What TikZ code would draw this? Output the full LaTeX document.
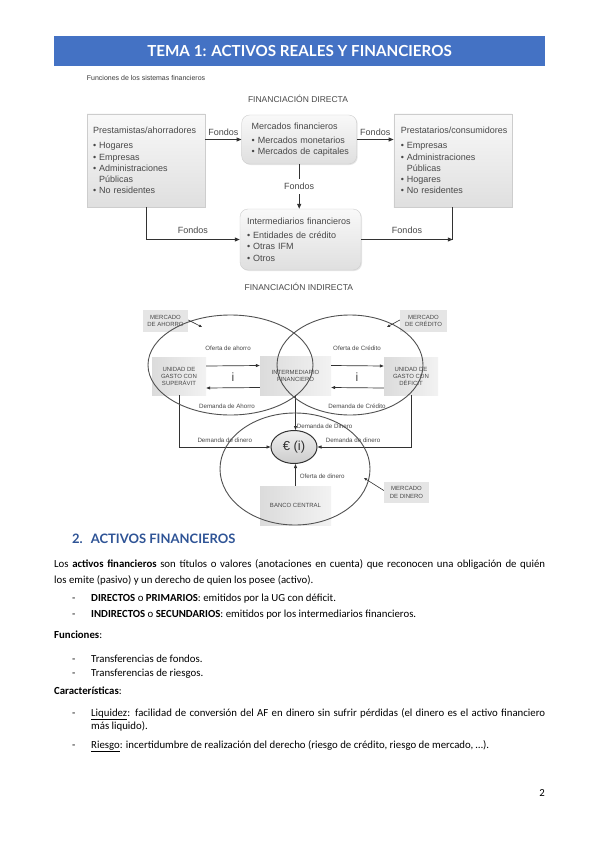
\documentclass[tikz,border=0pt]{standalone}
\usepackage{fontspec}
\setmainfont{Carlito}
\newfontfamily\diagfont{Liberation Sans}
\newfontfamily\headfont{Lato}
\usetikzlibrary{arrows.meta, positioning, shapes.geometric, shadows}
\definecolor{titleblue}{RGB}{68,114,196}
\definecolor{headblue}{RGB}{47,84,150}
\definecolor{diagtext}{RGB}{72,72,72}
\definecolor{diagline}{RGB}{50,50,50}
\definecolor{boxedge}{RGB}{205,205,205}
\tikzset{
  agentbox/.style={rectangle, draw=boxedge, top color=gray!5, bottom color=gray!25,
                   drop shadow={opacity=0.2, shadow xshift=1pt, shadow yshift=-1pt},
                   align=left, font=\diagfont\fontsize{9}{11.3}\selectfont, text=diagtext,
                   inner ysep=0pt},
  marketbox/.style={agentbox, rounded corners=8pt},
  flow/.style={-{Triangle[length=5pt, width=4pt]}, line width=1pt, draw=diagline},
  flowline/.style={line width=1pt, draw=diagline},
  caption/.style={font=\diagfont\fontsize{8.5}{10}\selectfont, text=diagtext, inner sep=1pt},
  fondos/.style={font=\diagfont\fontsize{9}{10}\selectfont, text=diagtext, inner sep=2pt},
  unitbox/.style={rectangle, left color=gray!28, right color=gray!10, align=center,
                  font=\diagfont\fontsize{6}{7}\selectfont, text=diagtext, inner sep=1pt},
  marketlabel/.style={rectangle, fill=gray!20, align=center,
                  font=\diagfont\fontsize{6}{7.2}\selectfont, text=diagtext, inner sep=1pt},
  marketoval/.style={ellipse, draw=diagline!85, line width=0.9pt, inner sep=0pt},
  flowlabel/.style={font=\diagfont\fontsize{6.2}{7}\selectfont, text=diagtext, inner sep=1pt},
  ratelabel/.style={font=\diagfont\fontsize{12}{13}\selectfont, text=diagtext, inner sep=0pt},
  ratenode/.style={ellipse, draw=diagline, line width=1pt, top color=gray!12, bottom color=gray!40,
                   inner sep=0pt, font=\diagfont\fontsize{13}{14}\selectfont, text=diagtext!70!black},
  moneyflow/.style={-{Triangle[length=4pt, width=3pt]}, line width=0.7pt, draw=diagline},
  pointer/.style={-{Triangle[length=3pt, width=2.5pt]}, line width=0.6pt, draw=diagline},
  body/.style={font=\fontsize{10.8}{16}\selectfont, inner sep=0pt, anchor=base west},
  itemtext/.style={body, text width=454pt, align=justify, font=\fontsize{10.8}{13.5}\selectfont},
}

\begin{document}
\begin{tikzpicture}[x=1pt, y=-1pt]
\fill[white] (0,0) rectangle (599,848);
\useasboundingbox (0,0) rectangle (599,848);

% Cabecera
\node[rectangle, fill=titleblue, minimum width=491pt, minimum height=30pt, text=white,
      font=\headfont\bfseries\fontsize{15.2}{18}\selectfont] (title) at (299.5,51) {TEMA 1: ACTIVOS REALES Y FINANCIEROS};
\node[anchor=west, font=\diagfont\fontsize{7}{8}\selectfont, text=diagtext!80!black, inner sep=0pt] (subtitle) at (86.7,78) {Funciones de los sistemas financieros};
\node[caption] (directa) at (298,99) {FINANCIACIÓN DIRECTA};

% Financiación directa e indirecta
\node[agentbox, text width=106pt, inner xsep=6pt, minimum height=93pt] (prest) at (146,160.5)
  {\mbox{Prestamistas/ahorradores}\\[4pt]
   \mbox{\textbullet\ Hogares}\\
   \mbox{\textbullet\ Empresas}\\
   \mbox{\textbullet\ Administraciones}\\
   \mbox{\hphantom{\textbullet\ }Públicas}\\
   \mbox{\textbullet\ No residentes}};
\node[marketbox, text width=95pt, inner xsep=10pt, minimum height=49pt] (merc) at (299.2,139.5)
  {\mbox{Mercados financieros}\\[3pt]
   \mbox{\textbullet\ Mercados monetarios}\\
   \mbox{\textbullet\ Mercados de capitales}};
\node[agentbox, text width=104pt, inner xsep=7pt, minimum height=93pt] (prestat) at (452.8,160.5)
  {\mbox{Prestatarios/consumidores}\\[4pt]
   \mbox{\textbullet\ Empresas}\\
   \mbox{\textbullet\ Administraciones}\\
   \mbox{\hphantom{\textbullet\ }Públicas}\\
   \mbox{\textbullet\ Hogares}\\
   \mbox{\textbullet\ No residentes}};
\node[marketbox, text width=107pt, inner xsep=7pt, minimum height=61pt] (inter) at (300.5,239.5)
  {\mbox{Intermediarios financieros}\\[3pt]
   \mbox{\textbullet\ Entidades de crédito}\\
   \mbox{\textbullet\ Otras IFM}\\
   \mbox{\textbullet\ Otros}};
\node[caption] (indirecta) at (298.8,286.7) {FINANCIACIÓN INDIRECTA};

\draw[flow] (merc.west -| prest.east) -- node[fondos, above=1pt] {Fondos} (merc.west);
\draw[flow] (merc.east) -- node[fondos, above=1pt] {Fondos} (merc.east -| prestat.west);
\draw[flow] (merc.south) -- node[fondos, fill=white, inner ysep=4pt] {Fondos} (merc.south |- inter.north);
\draw[flow] (prest.south) |- node[fondos, above=3pt, pos=0.75] {Fondos} (inter.west);
\coordinate (corner) at (prestat.south |- inter.east);
\draw[flow] (inter.east) -- node[fondos, above=3pt] {Fondos} (corner);
\draw[flowline] (prestat.south) -- (corner);

% Mercados de ahorro, crédito y dinero
\node[unitbox, minimum width=54pt, minimum height=38pt] (superavit) at (179,376) {UNIDAD DE\\GASTO CON\\SUPERÁVIT};
\node[unitbox, minimum width=71pt, minimum height=39pt] (interm) at (295.5,375.5) {INTERMEDIARIO\\FINANCIERO};
\node[unitbox, minimum width=54pt, minimum height=38pt] (deficit) at (411,376) {UNIDAD DE\\GASTO CON\\DÉFICIT};
\node[unitbox, minimum width=71pt, minimum height=39pt] (banco) at (295.5,505.5) {BANCO CENTRAL};
\node[ratenode, minimum width=46pt, minimum height=33pt] (euro) at (294,447) {€ (i)};

\node[marketlabel, minimum width=45pt, minimum height=22pt] (mahorro) at (165.5,321) {MERCADO\\DE AHORRO};
\node[marketlabel, minimum width=47pt, minimum height=22pt] (mcredito) at (423.5,321) {MERCADO\\DE CRÉDITO};
\node[marketlabel, minimum width=45pt, minimum height=21pt] (mdinero) at (406.5,492.5) {MERCADO\\DE DINERO};

\node[flowlabel] (ofahorro) at (228,348) {Oferta de ahorro};
\node[ratelabel] (iahorro) at (233,377) {i};
\node[flowlabel] (demahorro) at (227,406) {Demanda de Ahorro};
\node[flowlabel] (ofcredito) at (357,348) {Oferta de Crédito};
\node[ratelabel] (icredito) at (357,377) {i};
\node[flowlabel] (demcredito) at (357,406) {Demanda de Crédito};

\draw[moneyflow] ([yshift=10pt]superavit.east) -- ([yshift=10pt]interm.west);
\draw[moneyflow] ([yshift=-12pt]interm.west) -- ([yshift=-12pt]superavit.east);
\draw[moneyflow] ([yshift=10pt]interm.east) -- ([yshift=10pt]deficit.west);
\draw[moneyflow] ([yshift=-12pt]deficit.west) -- ([yshift=-12pt]interm.east);

\draw[moneyflow] (interm.south) -- node[flowlabel, right, pos=0.9] {Demanda de Dinero} (interm.south |- euro.north);
\draw[moneyflow] (superavit.south) |- node[flowlabel, above=3pt, pos=0.75] {Demanda de dinero} (euro.west);
\draw[moneyflow] (deficit.south) |- node[flowlabel, above=3pt, pos=0.81] {Demanda de dinero} (euro.east);
\draw[moneyflow] (banco.north) -- node[flowlabel, right=3pt, pos=0.45] {Oferta de dinero} (banco.north |- euro.south);

\node[marketoval, minimum width=165pt, minimum height=100pt] (ahorro) at (230.5,365) {};
\node[marketoval, minimum width=146pt, minimum height=100pt] (credito) at (350,365) {};
\node[marketoval, minimum width=150pt, minimum height=112pt] (dinero) at (295,469) {};

\coordinate (pahorro) at (202,327);
\coordinate (pcredito) at (387,327);
\coordinate (pdinero) at (364,478);
\draw[pointer] ([yshift=1pt]mahorro.east) -- (pahorro);
\draw[pointer] ([yshift=1pt]mcredito.west) -- (pcredito);
\draw[pointer] ([yshift=2pt]mdinero.west) -- (pdinero);

% Texto de la página
\node[anchor=base west, inner sep=0pt, text=headblue, font=\headfont\bfseries\fontsize{13}{16}\selectfont] (seccion) at (72,543)
  {2.\hspace{8pt}ACTIVOS FINANCIEROS};
\node[body, text width=491pt, align=justify] (intro) at (54,567)
  {Los \textbf{activos financieros} son títulos o valores (anotaciones en cuenta) que reconocen una obligación de quién\linebreak
   los emite (pasivo) y un derecho de quien los posee (activo).};
\foreach \name/\ypos in {directos/601, indirectos/617, fondos/662, riesgos/676, liquidez/716, riesgo/748}
  \node[body] (dash-\name) at (72,\ypos) {-};
\node[itemtext] (directos) at (91,601) {\textbf{DIRECTOS} o \textbf{PRIMARIOS}: emitidos por la UG con déficit.};
\node[itemtext] (indirectos) at (91,617) {\textbf{INDIRECTOS} o \textbf{SECUNDARIOS}: emitidos por los intermediarios financieros.};
\node[body] (funciones) at (54,638) {\textbf{Funciones}:};
\node[itemtext] (fondos) at (91,662) {Transferencias de fondos.};
\node[itemtext] (riesgos) at (91,676) {Transferencias de riesgos.};
\node[body] (caract) at (54,694) {\textbf{Características}:};
\node[itemtext] (liquidez) at (91,716)
  {\underline{Liquidez}: facilidad de conversión del AF en dinero sin sufrir pérdidas (el dinero es el activo financiero\linebreak
   más liquido).};
\node[itemtext] (riesgo) at (91,748)
  {\underline{Riesgo}: incertidumbre de realización del derecho (riesgo de crédito, riesgo de mercado, …).};
\node[anchor=base east, inner sep=0pt, font=\fontsize{10.8}{12}\selectfont] (pagina) at (545,796) {2};
\end{tikzpicture}
\end{document}
